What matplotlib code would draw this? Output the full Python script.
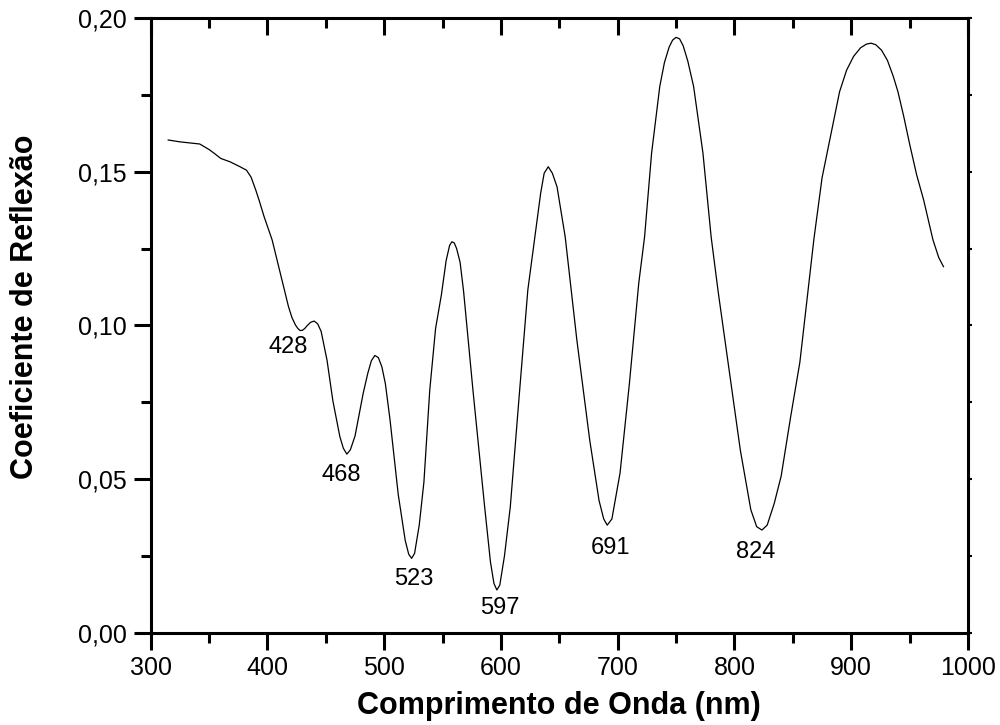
import numpy as np
import matplotlib
matplotlib.use("Agg")
from matplotlib import pyplot as plt
from matplotlib.ticker import MultipleLocator, FuncFormatter

plt.rcParams['font.family'] = ['Liberation Sans', 'DejaVu Sans']

# comprimento de onda (nm) e coeficiente de reflexao
wl = [315, 325, 335, 342, 350, 355, 360, 368, 376, 382, 386, 390, 393, 397,
      404, 411, 418, 421, 424, 426, 428, 430, 432, 434, 437, 440, 443, 446,
      451, 456, 462, 465, 468, 471, 475, 482, 486, 489, 492, 495, 498, 501,
      505, 512, 518, 521, 523.5, 526, 530, 534, 539, 544, 549, 553, 556, 558,
      560, 562, 565, 568, 576, 586, 591, 594, 596.5, 599, 603, 608, 616, 623,
      629, 634, 637, 640.5, 644, 648, 655, 665, 676, 684, 688, 691, 695, 702,
      710, 718, 723, 729, 736, 740, 744, 747, 750, 753, 756, 760, 765, 773,
      780, 786, 793, 805, 814, 819, 823.5, 828, 834, 840, 848, 856, 868, 875,
      882, 890, 896, 902, 908, 913, 917, 921, 926, 931, 936, 940, 945, 950,
      956, 962, 970, 975, 979]
refl = [0.1603, 0.1597, 0.1593, 0.1590, 0.1572, 0.1558, 0.1543, 0.1532,
        0.1517, 0.1505, 0.1482, 0.1440, 0.1405, 0.1355, 0.1278, 0.1169,
        0.1061, 0.1025, 0.1001, 0.0990, 0.0983, 0.0984, 0.0990, 0.0999,
        0.1010, 0.1014, 0.1005, 0.0980, 0.0887, 0.0755, 0.0638, 0.0600,
        0.0581, 0.0595, 0.0640, 0.0779, 0.0845, 0.0885, 0.0902, 0.0895,
        0.0865, 0.0810, 0.0692, 0.0450, 0.0300, 0.0255, 0.0242, 0.0258,
        0.0350, 0.0490, 0.0789, 0.0990, 0.1100, 0.1210, 0.1260, 0.1272,
        0.1268, 0.1250, 0.1205, 0.1110, 0.0789, 0.0410, 0.0230, 0.0160,
        0.0139, 0.0155, 0.0250, 0.0410, 0.0789, 0.1115, 0.1288, 0.1430,
        0.1495, 0.1516, 0.1495, 0.1451, 0.1288, 0.0952, 0.0627, 0.0430,
        0.0370, 0.0350, 0.0370, 0.0520, 0.0811, 0.1137, 0.1288, 0.1560,
        0.1777, 0.1855, 0.1905, 0.1928, 0.1937, 0.1932, 0.1910, 0.1860,
        0.1777, 0.1560, 0.1288, 0.1110, 0.0920, 0.0594, 0.0400, 0.0345,
        0.0334, 0.0350, 0.0420, 0.0510, 0.0700, 0.0880, 0.1280, 0.1480,
        0.1610, 0.1760, 0.1830, 0.1875, 0.1903, 0.1915, 0.1918, 0.1913,
        0.1895, 0.1862, 0.1810, 0.1760, 0.1679, 0.1590, 0.1490, 0.1408,
        0.1278, 0.1220, 0.1191]

# minimos anotados
min_labels = ['428', '468', '523', '597', '691', '824']
label_x = [417.6, 463.6, 525.5, 599.2, 694.0, 818.4]
label_y = [0.093, 0.0513, 0.0176, 0.0080, 0.0277, 0.0264]


def main():
    fig = plt.figure(figsize=(10, 7.25), dpi=100)
    ax = fig.add_axes([0.1507, 0.1273, 0.8173, 0.8479])
    ax.plot(wl, refl, color='black', linewidth=0.9)

    for txt, x, y in zip(min_labels, label_x, label_y):
        ax.text(x, y, txt, ha='center', va='center', fontsize=17)

    ax.set_xlim(300, 1000)
    ax.set_ylim(0, 0.2)
    ax.xaxis.set_major_locator(MultipleLocator(100))
    ax.xaxis.set_minor_locator(MultipleLocator(50))
    ax.yaxis.set_major_locator(MultipleLocator(0.05))
    ax.yaxis.set_minor_locator(MultipleLocator(0.025))
    ax.yaxis.set_major_formatter(FuncFormatter(lambda v, p: f'{v:.2f}'.replace('.', ',')))

    for s in ax.spines.values():
        s.set_linewidth(2.2)
    ax.tick_params(which='both', top=False, right=True, labelsize=18, width=2.2,
                   direction='out')
    ax.tick_params(which='major', length=12, pad=5)
    ax.tick_params(which='minor', length=7)
    # marcas curtas no eixo da direita
    for t in ax.yaxis.get_major_ticks() + ax.yaxis.get_minor_ticks():
        t.tick2line.set_markersize(3)
        t.tick2line.set_markeredgewidth(1.5)

    # eixo de cima: marcas para dentro
    top = ax.twiny()
    top.set_xlim(ax.get_xlim())
    top.xaxis.set_major_locator(MultipleLocator(100))
    top.xaxis.set_minor_locator(MultipleLocator(50))
    top.tick_params(which='both', top=True, bottom=False, labeltop=False,
                    labelbottom=False, direction='in', width=2.2)
    top.tick_params(which='major', length=12)
    top.tick_params(which='minor', length=7)
    for s in top.spines.values():
        s.set_visible(False)

    ax.set_xlabel('Comprimento de Onda (nm)', fontsize=22, fontweight='bold', labelpad=8)
    ax.set_ylabel('Coeficiente de Reflexão', fontsize=22, fontweight='bold', va='center')
    ax.yaxis.set_label_coords(-0.1538, 0.53)

    fig.savefig('out.png', dpi=100)


if __name__ == '__main__':
    main()
